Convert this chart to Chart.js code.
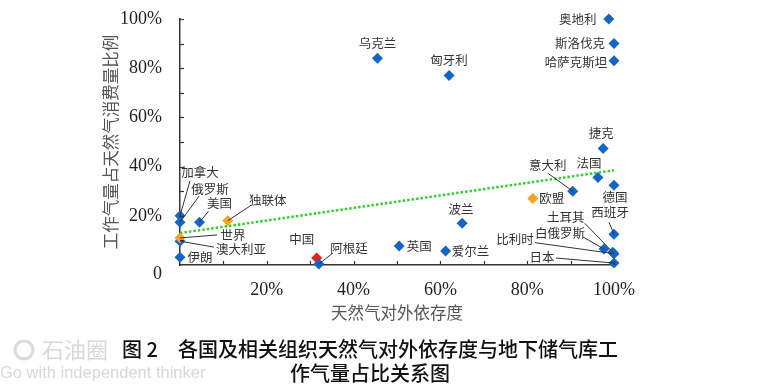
<!DOCTYPE html>
<html>
<head>
<meta charset="utf-8">
<script src="https://cdn.jsdelivr.net/npm/chart.js@4.4.0/dist/chart.umd.min.js"></script>
<style>
html,body{margin:0;padding:0;background:#fff;}
#wrap{width:775px;height:387px;position:relative;}
</style>
</head>
<body>
<div id="wrap"><canvas id="c" width="775" height="387"></canvas></div>
<script>
// ---------------- data ----------------
const names = ['加拿大','俄罗斯','美国','独联体','澳大利亚','世界','伊朗','中国','阿根廷','乌克兰','匈牙利','奥地利','斯洛伐克','哈萨克斯坦','捷克','法国','德国','意大利','欧盟','波兰','西班牙','英国','爱尔兰','白俄罗斯','土耳其','比利时','日本'];
// x: 天然气对外依存度 (%)
const importDependence = [0,0,4.5,11,0,0,0,31.5,32,45.5,62,98.8,100,100,97.5,96.3,100,90.5,81.3,65,100,50.5,61.2,97.7,99.7,100,100];
// y: 工作气量占天然气消费量比例 (%)
const workingGasShare = [20,17.4,17.4,18,9.7,11,3.2,2.8,0.4,84,77,100,90,83,47.4,35.6,32.4,30,27,17,12.5,7.7,5.7,6.5,5.2,4.6,0.8];
const groups = ['country','country','country','org','country','org','country','china','country','country','country','country','country','country','country','country','country','country','org','country','country','country','country','country','country','country','country'];
// trend line end values
const trendX = [0, 100];
const trendY = [13, 38.5];
const xTickLabels = [20, 40, 60, 80, 100];
const yTickLabels = [0, 20, 40, 60, 80, 100];

// ---------------- layout / style (not data) ----------------
const groupColors = {country:'#1565c8', org:'#f6a31d', china:'#e5231b'};
// label offset from point [dx, dy] and optional leader line start [lx, ly] (pixels, relative to point)
const labelLayout = [
  [20,-44, 10,-35],
  [30,-33, 19,-26],
  [20,-19, 9,-11],
  [40,-20, 22,-14.5],
  [61,8, 34,6],
  [53,-3, 37,-3],
  [20,0],
  [-15,-19],
  [30,-16, 14,-11],
  [0,-15],
  [0,-15],
  [-31,0],
  [-34,0],
  [-38,1],
  [-2,-15],
  [-9,-14],
  [1,12],
  [-25,-26, -25,-18],
  [19,0],
  [-1,-14],
  [-4,-22, -5,-12],
  [20,0],
  [25,0],
  [-44,-16, -21,-12],
  [-47,-35, -28,-29],
  [-99,-14, -79,-11],
  [-72,-6, -58,-5]
];

const points = names.map((n,i)=>({x: importDependence[i], y: workingGasShare[i]}));
const pointColors = groups.map(g=>groupColors[g]);
const trend = trendX.map((x,i)=>({x, y: trendY[i]}));

const labelPlugin = {
  id:'pointLabels',
  afterDatasetsDraw(chart){
    const ctx = chart.ctx;
    const meta = chart.getDatasetMeta(0);
    ctx.save();
    ctx.font = '12.5px "Noto Sans CJK SC"';
    ctx.fillStyle = '#333';
    ctx.strokeStyle = '#333';
    ctx.lineWidth = 1;
    ctx.textAlign = 'center';
    ctx.textBaseline = 'middle';
    meta.data.forEach((el,i)=>{
      const L = labelLayout[i];
      const x = el.x, y = el.y;
      if (L.length > 2){
        ctx.beginPath();
        ctx.moveTo(x + L[2], y + L[3]);
        ctx.lineTo(x, y);
        ctx.stroke();
      }
      ctx.fillText(names[i], x + L[0], y + L[1]);
    });
    ctx.restore();
  }
};

const tickPlugin = {
  id:'innerTicks',
  afterDraw(chart){
    const ctx = chart.ctx;
    const xs = chart.scales.x, ys = chart.scales.y;
    const a = chart.chartArea;
    ctx.save();
    ctx.strokeStyle = '#333';
    ctx.lineWidth = 1.2;
    xs.ticks.forEach(t=>{
      if (t.value === 0) return;
      const px = Math.round(xs.getPixelForValue(t.value)) + 0.5;
      ctx.beginPath(); ctx.moveTo(px, a.bottom); ctx.lineTo(px, a.bottom - 4); ctx.stroke();
    });
    ys.ticks.forEach(t=>{
      if (t.value === 0) return;
      const py = Math.round(ys.getPixelForValue(t.value)) + 0.5;
      ctx.beginPath(); ctx.moveTo(a.left, py); ctx.lineTo(a.left + 4, py); ctx.stroke();
    });
    ctx.restore();
  }
};

const captionPlugin = {
  id:'caption',
  afterDraw(chart){
    const ctx = chart.ctx;
    ctx.save();
    // watermark
    ctx.strokeStyle = '#dadada';
    ctx.lineWidth = 3;
    ctx.beginPath(); ctx.arc(24, 350, 9, 0, Math.PI*2); ctx.stroke();
    ctx.fillStyle = '#d8d8d8';
    ctx.textBaseline = 'middle';
    ctx.textAlign = 'left';
    ctx.font = '22px "Noto Sans CJK SC"';
    ctx.fillText('石油圈', 42, 350);
    ctx.font = '16.5px "Liberation Sans"';
    ctx.fillText('Go with independent thinker', 0, 373);
    // caption
    ctx.fillStyle = '#111';
    ctx.font = '500 20px "Noto Sans CJK SC"';
    ctx.fillText('图 2', 122, 349);
    ctx.fillText('各国及相关组织天然气对外依存度与地下储气库工', 178, 349);
    ctx.fillText('作气量占比关系图', 290, 373);
    ctx.restore();
  }
};

new Chart(document.getElementById('c'), {
  data:{
    datasets:[
      {type:'scatter', data:points, pointStyle:'rectRot', pointRadius:5.5, pointHoverRadius:5.5,
       backgroundColor:pointColors, borderColor:pointColors, borderWidth:0, order:1, clip:false},
      {type:'line', data:trend, borderColor:'#2fd12f', borderDash:[2.5,2], borderWidth:2.5,
       pointRadius:0, fill:false, tension:0, order:2}
    ]
  },
  options:{
    responsive:false, animation:false, devicePixelRatio:1,
    layout:{padding:{top:18,right:161,left:0,bottom:0}},
    plugins:{legend:{display:false}, tooltip:{enabled:false}},
    scales:{
      x:{type:'linear', position:'bottom', min:0, max:100,
        grid:{display:false}, border:{display:true, color:'#333', width:1.5},
        ticks:{stepSize:10, padding:6, maxRotation:0, autoSkip:false,
          callback:v=> xTickLabels.includes(v) ? v + '%' : '',
          font:{family:'"Liberation Serif"', size:18}, color:'#222'},
        title:{display:true, text:'天然气对外依存度', font:{family:'"Noto Sans CJK SC"', size:16.5}, color:'#555', padding:{top:0,bottom:64}},
        afterFit:s=>{ s.height = 122; }
      },
      y:{type:'linear', position:'left', min:0, max:100,
        grid:{display:false}, border:{display:true, color:'#333', width:1.5},
        ticks:{stepSize:10, padding:10, autoSkip:false,
          callback:v=> v === 0 ? ['', '0'] : (yTickLabels.includes(v) ? v + '%' : ''),
          font:{family:'"Liberation Serif"', size:18, lineHeight:1.0}, color:'#222'},
        title:{display:true, text:'工作气量占天然气消费量比例', font:{family:'"Noto Sans CJK SC"', size:16.5}, color:'#555', padding:{top:101,bottom:0}},
        afterFit:s=>{ s.width = 180; }
      }
    }
  },
  plugins:[tickPlugin, labelPlugin, captionPlugin]
});
</script>
</body>
</html>
